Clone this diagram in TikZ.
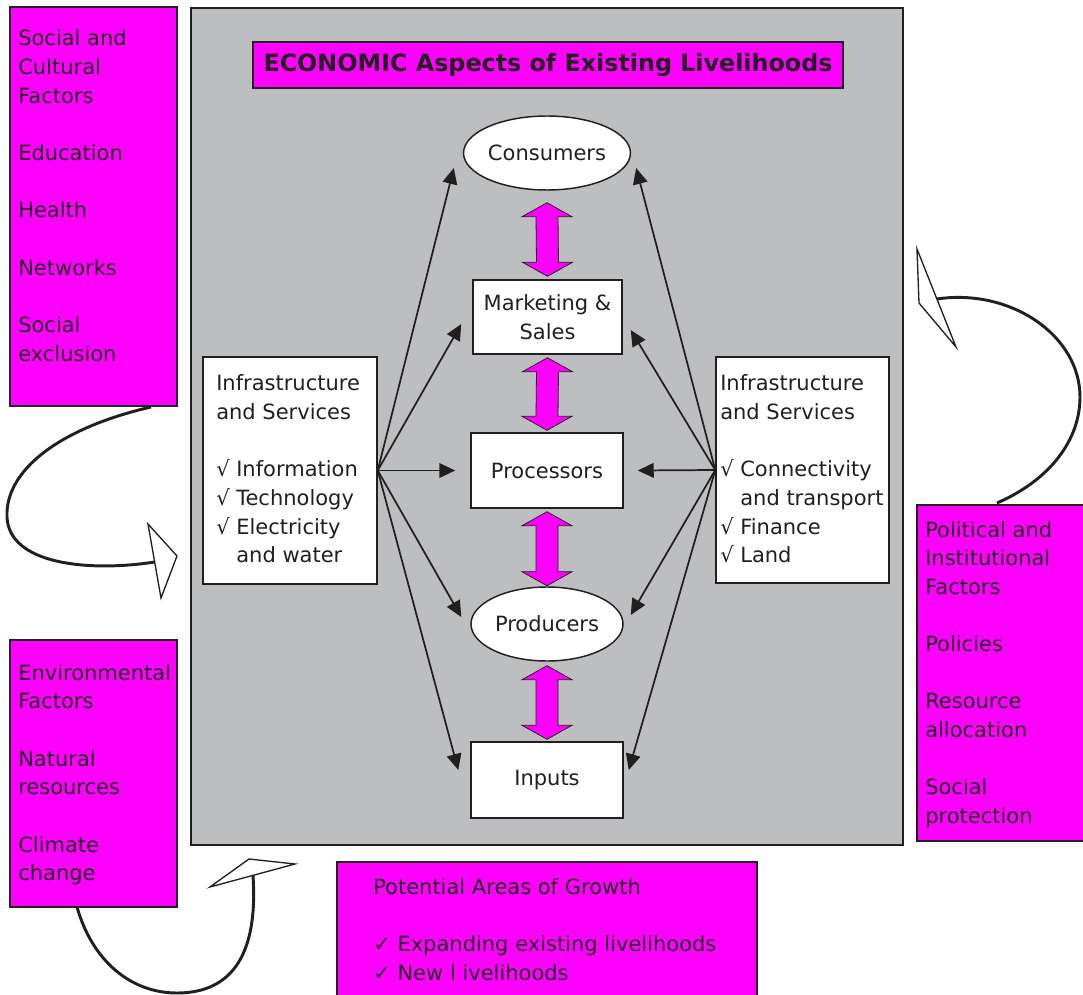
\documentclass[tikz,border=0pt]{standalone}
\usepackage{fontspec}
\setmainfont{DejaVu Sans}
\usetikzlibrary{shapes.geometric,arrows.meta,calc,fit}
\definecolor{mag}{HTML}{FF00FF}
\definecolor{panel}{HTML}{BCBEC0}
\definecolor{ink}{HTML}{231F20}
\newlength\pxl \setlength\pxl{0.75pt}
\newcommand\fsz{\fontsize{15.75pt}{21.5pt}\selectfont}
\newcommand\txtblock[1]{\parbox[t]{12cm}{\raggedright #1}}
\newcommand\gap{\\[21.5pt]}
\begin{document}
\begin{tikzpicture}[x=0.75pt,y=-0.75pt,
  panelbox/.style={draw=ink, line width=1.8pt, fill=panel, inner sep=0},
  magbox/.style={draw=ink, line width=1pt, fill=mag, inner sep=0},
  whitebox/.style={draw=ink, line width=1.1pt, fill=white, inner sep=0, font=\fsz, text=ink, align=center},
  oval/.style={ellipse, draw=ink, line width=1.1pt, fill=white, inner sep=0, minimum width=152\pxl, minimum height=74\pxl, font=\fsz, text=ink},
  txt/.style={anchor=base west, inner sep=0, font=\fsz, text=ink},
  conn/.style={draw=ink, line width=1.3pt, -{Triangle[length=12pt,width=11pt]}},
  dbl/.style={draw=ink, line width=0.6pt, fill=mag, line join=miter,
    to path={(\tikztostart) -- ++(25,14) -- ++(-14,0) -- ($(\tikztotarget)+(11,-14)$) -- ++(14,0) -- (\tikztotarget) -- ++(-25,-14) -- ++(14,0) -- ($(\tikztostart)+(-11,14)$) -- ++(-14,0) -- cycle}},
  curve/.style={draw=ink, line width=2.2pt},
  whitehead/.style={draw=ink, line width=1pt, fill=white, line join=miter}]
\useasboundingbox (0,0) rectangle (1083,995);
\fill[white] (0,0) rectangle (1083,995);

% main panel
\node[panelbox, fit={(191,8)(903,845)}] (panel) {};
\node[magbox, minimum width=590\pxl, minimum height=46\pxl, font=\bfseries\fontsize{17.85pt}{20pt}\selectfont, text=ink] (title) at (548,65) {ECONOMIC Aspects of Existing Livelihoods};

% side magenta boxes
\node[magbox, fit={(10,7)(177,406)}] (soc) {};
\node[txt] (soctxt) at (18,46) {\txtblock{Social and\\Cultural\\Factors\gap Education\gap Health\gap Networks\gap Social\\exclusion}};
\node[magbox, fit={(10,640)(177,907)}] (env) {};
\node[txt] (envtxt) at (18,680) {\txtblock{Environmental\\Factors\gap Natural\\resources\gap Climate\\change}};
\node[magbox, fit={(917,505)(1086,841)}] (pol) {};
\node[txt] (poltxt) at (925,537) {\txtblock{Political and\\Institutional\\Factors\gap Policies\gap Resource\\allocation\gap Social\\protection}};
\node[magbox, fit={(337,862)(757,1000)}] (grow) {};
\node[txt] (growtxt) at (373,894) {\txtblock{Potential Areas of Growth\gap ✓ Expanding existing livelihoods\\✓ New l ivelihoods}};

% chain
\node[oval] (cons) at (547,153) {Consumers};
\node[whitebox, minimum width=149\pxl, minimum height=74\pxl] (mkt) at (547.5,317) {Marketing \&\\Sales};
\node[whitebox, minimum width=152\pxl, minimum height=75\pxl] (proc) at (547,470.5) {Processors};
\node[oval] (prod) at (547,624) {Producers};
\node[whitebox, minimum width=152\pxl, minimum height=76\pxl] (inp) at (547,780) {Inputs};

% infrastructure boxes
\node[whitebox, fit={(203,357)(377,584)}] (linfo) {};
\node[txt] (linfotxt) at (216,391) {\txtblock{Infrastructure\\and Services\gap √ Information\\√ Technology\\√ Electricity\\\phantom{√ }and water}};
\node[whitebox, fit={(716,357)(889,583)}] (rinfo) {};
\node[txt] (rinfotxt) at (720,391) {\txtblock{Infrastructure\\and Services\gap √ Connectivity\\\phantom{√ }and transport\\√ Finance\\√ Land}};

% double arrows
\draw[dbl] ($(cons.south)+(0,12)$) to ($(mkt.north)+(0,-3)$);
\draw[dbl] ($(mkt.south)+(0,3)$) to ($(proc.north)+(0,-2)$);
\draw[dbl] ($(proc.south)+(0,3)$) to ($(prod.south)+(0,-76)$);
\draw[dbl] ($(prod.south)+(0,4)$) to ($(inp.north)+(0,-2)$);

% connectors
\draw[conn] (linfo.east) -- ($(cons.west)+(-9,15)$);
\draw[conn] (linfo.east) -- ($(mkt.west)+(-11,7)$);
\draw[conn] (linfo.east) -- ($(proc.west)+(-15,0)$);
\draw[conn] (linfo.east) -- ($(prod.west)+(-9,-7)$);
\draw[conn] (linfo.east) -- ($(inp.west)+(-12,-10)$);
\draw[conn] (rinfo.west) -- ($(cons.east)+(5,15)$);
\draw[conn] (rinfo.west) -- ($(mkt.east)+(8,13)$);
\draw[conn] (rinfo.west) -- ($(proc.east)+(14,0)$);
\draw[conn] (rinfo.west) -- ($(prod.east)+(7,-9)$);
\draw[conn] (rinfo.west) -- ($(inp.east)+(5,-10)$);

% curved arrows
\coordinate (c1s) at (151,407);
\coordinate (c1e) at (154.7,562);
\draw[curve] (c1s) .. controls (60,428) and (5,470) .. (7,517) .. controls (9,565) and (90,572) .. (c1e);
\draw[whitehead] (148,524) -- (177,556) -- (161,598) -- cycle;

\coordinate (c2s) at (997,503);
\coordinate (c2e) at (936.9,299);
\draw[curve] (c2s) .. controls (1050,480) and (1080,440) .. (1080,397) .. controls (1080,335) and (1010,288) .. (c2e);
\draw[whitehead] (917,249) -- (919,303) -- (956,347) -- cycle;

\coordinate (c3s) at (77,907);
\coordinate (c3e) at (253,875.5);
\draw[curve] (c3s) .. controls (92,960) and (130,993) .. (177,993) .. controls (235,993) and (258,950) .. (c3e);
\draw[whitehead] (210,887) -- (249,859) -- (295,864) -- cycle;
\end{tikzpicture}
\end{document}
